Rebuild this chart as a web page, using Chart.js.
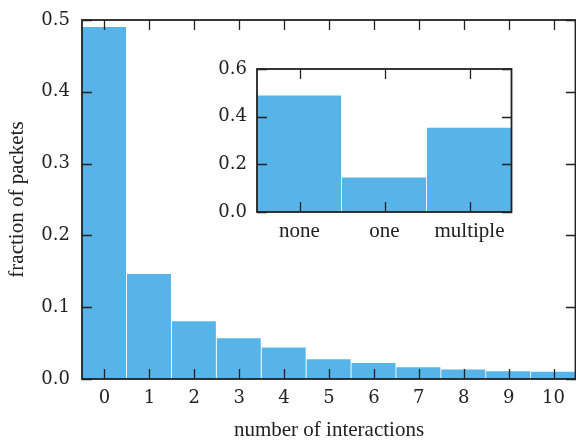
<!DOCTYPE html>
<html>
<head>
<meta charset="utf-8">
<script src="https://cdn.jsdelivr.net/npm/chart.js@4/dist/chart.umd.min.js"></script>
<style>
  html, body { margin: 0; padding: 0; background: #ffffff; }
  #wrap { position: relative; width: 576px; height: 440px; }
  #main { position: absolute; left: 0; top: 0; }
  #inset { position: absolute; left: 200px; top: 50px; }
</style>
</head>
<body>
<div id="wrap">
  <canvas id="main" width="576" height="440"></canvas>
  <canvas id="inset" width="330" height="200"></canvas>
</div>
<script>
// ---- data ----
const interactionCategories = ['0', '1', '2', '3', '4', '5', '6', '7', '8', '9', '10'];
const packetFractions = [0.491, 0.147, 0.081, 0.0575, 0.0446, 0.028, 0.023, 0.017, 0.014, 0.0116, 0.0107];
const mainYTicks = [0.0, 0.1, 0.2, 0.3, 0.4, 0.5];

const insetCategories = ['none', 'one', 'multiple'];
const insetFractions = [0.491, 0.147, 0.355];
const insetYTicks = [0.0, 0.2, 0.4, 0.6];

const xTitle = 'number of interactions';
const yTitle = 'fraction of packets';

// ---- styling ----
const BAR = '#56B4E9';
const INK = '#222222';
const FONT = "'Liberation Serif', 'Times New Roman', serif";
const NUMFONT = "'DejaVu Serif', 'Liberation Serif', serif";

Chart.defaults.font.family = FONT;
Chart.defaults.color = INK;

// frame + inward ticks on all four sides
const framePlugin = {
  id: 'frame',
  afterDatasetsDraw(chart) {
    const {ctx, chartArea: a, scales: {x, y}} = chart;
    const len = 10;
    ctx.save();
    ctx.strokeStyle = INK;
    ctx.lineWidth = 1.3;
    ctx.beginPath();
    y.ticks.forEach(t => {
      const py = Math.round(y.getPixelForValue(t.value)) + 0.5;
      ctx.moveTo(a.left, py); ctx.lineTo(a.left + len, py);
      ctx.moveTo(a.right, py); ctx.lineTo(a.right - len, py);
    });
    x.ticks.forEach((t, i) => {
      const px = Math.round(x.getPixelForTick(i)) + 0.5;
      ctx.moveTo(px, a.bottom); ctx.lineTo(px, a.bottom - len);
      ctx.moveTo(px, a.top); ctx.lineTo(px, a.top + len);
    });
    ctx.stroke();
    ctx.lineWidth = 1.8;
    ctx.strokeStyle = INK;
    ctx.strokeRect(a.left, a.top, a.right - a.left - 0.5, a.bottom - a.top);
    ctx.restore();
  }
};

function fixedSize(w) { return s => { s.width = w; }; }
function fixedHeight(h) { return s => { s.height = h; }; }

const fmt1 = v => Number(v).toFixed(1);

new Chart(document.getElementById('main'), {
  type: 'bar',
  data: {
    labels: interactionCategories,
    datasets: [{
      data: packetFractions,
      backgroundColor: BAR,
      borderColor: '#ffffff',
      borderWidth: {left: 0, right: 1.2, top: 0.8, bottom: 0},
      borderSkipped: false,
      barPercentage: 1.0,
      categoryPercentage: 1.0
    }]
  },
  options: {
    responsive: false,
    animation: false,
    devicePixelRatio: 1,
    layout: { padding: { top: 20, right: 0, left: 0, bottom: 0 } },
    plugins: { legend: { display: false }, tooltip: { enabled: false } },
    scales: {
      x: {
        offset: true,
        grid: { display: false, drawTicks: false },
        border: { display: false },
        ticks: { font: { family: NUMFONT, size: 18, lineHeight: 1.2 }, padding: 9, color: INK, maxRotation: 0, autoSkip: false },
        title: { display: true, text: xTitle, font: { family: FONT, size: 21, lineHeight: 0.9 }, padding: { top: 0, bottom: 0 }, color: INK },
        afterFit: fixedHeight(61)
      },
      y: {
        min: 0, max: 0.5,
        afterBuildTicks: s => { s.ticks = mainYTicks.map(v => ({ value: v })); },
        grid: { display: false, drawTicks: false },
        border: { display: false },
        ticks: { font: { family: NUMFONT, size: 18, lineHeight: 0.5 }, padding: 12, color: INK, callback: fmt1 },
        title: { display: true, text: yTitle, font: { family: FONT, size: 21, lineHeight: 0.9 }, padding: { top: 8, bottom: 0 }, color: INK },
        afterFit: fixedSize(82)
      }
    }
  },
  plugins: [framePlugin]
});

new Chart(document.getElementById('inset'), {
  type: 'bar',
  data: {
    labels: insetCategories,
    datasets: [{
      data: insetFractions,
      backgroundColor: BAR,
      borderColor: '#ffffff',
      borderWidth: {left: 0, right: 1.2, top: 0.8, bottom: 0},
      borderSkipped: false,
      barPercentage: 1.0,
      categoryPercentage: 1.0
    }]
  },
  options: {
    responsive: false,
    animation: false,
    devicePixelRatio: 1,
    layout: { padding: { top: 19, right: 18, left: 0, bottom: 0 } },
    plugins: { legend: { display: false }, tooltip: { enabled: false } },
    scales: {
      x: {
        offset: true,
        grid: { display: false, drawTicks: false },
        border: { display: false },
        ticks: { font: { family: FONT, size: 21, lineHeight: 1.2 }, padding: 7, color: INK, maxRotation: 0, autoSkip: false },
        afterFit: fixedHeight(38)
      },
      y: {
        min: 0, max: 0.6,
        afterBuildTicks: s => { s.ticks = insetYTicks.map(v => ({ value: v })); },
        grid: { display: false, drawTicks: false },
        border: { display: false },
        ticks: { font: { family: NUMFONT, size: 18, lineHeight: 0.5 }, padding: 10, color: INK, callback: fmt1 },
        afterFit: fixedSize(57)
      }
    }
  },
  plugins: [framePlugin]
});
</script>
</body>
</html>
